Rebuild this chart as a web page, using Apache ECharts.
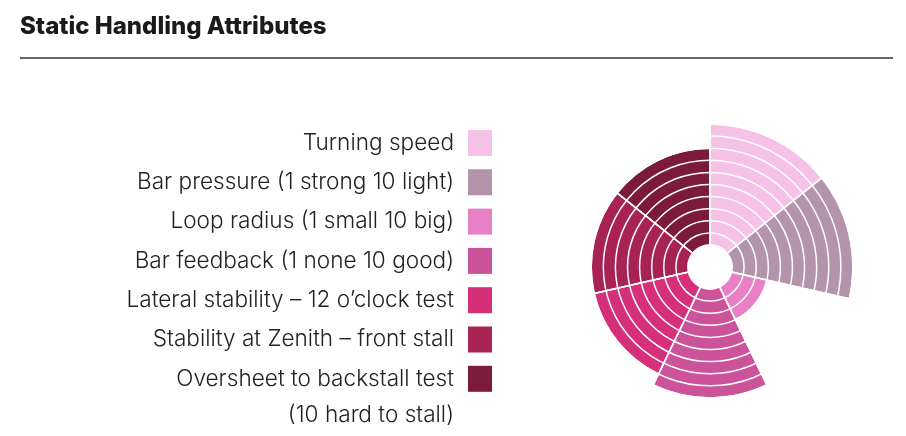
<!DOCTYPE html>
<html><head><meta charset="utf-8">
<script src="https://cdn.jsdelivr.net/npm/echarts@6/dist/echarts.min.js"></script>
<style>html,body{margin:0;padding:0;background:#fff}#c{width:906px;height:436px}</style>
</head><body><div id="c"></div>
<script>
const titleText = 'Static Handling Attributes';
const categories = [
  'Turning speed',
  'Bar pressure (1 strong 10 light)',
  'Loop radius (1 small 10 big)',
  'Bar feedback (1 none 10 good)',
  'Lateral stability \u2013 12 o\u2019clock test',
  'Stability at Zenith \u2013 front stall',
  'Oversheet to backstall test'
];
const values = [10, 10, 3, 9, 8, 8, 8];
const colors = ['#f5c1e6', '#b394aa', '#e97fc4', '#cc5299', '#d6307b', '#a92254', '#7b1a3a'];
const legendNote = '(10 hard to stall)';
const radiusMax = 10;

const FONT = 'Inter, "Noto Sans", sans-serif';
const chart = echarts.init(document.getElementById('c'), null, {renderer: 'canvas'});

const series = categories.map((name, i) => ({
  name: name,
  type: 'bar',
  coordinateSystem: 'polar',
  stack: 'all',
  barCategoryGap: '0%',
  data: values.map((v, j) => (j === i ? v : '-')),
  itemStyle: {color: colors[i], borderColor: '#fff', borderWidth: 1.5},
  emphasis: {disabled: true},
  silent: true,
  animation: false
}));

chart.setOption({
  animation: false,
  backgroundColor: '#fff',
  title: {
    text: titleText,
    left: 15, top: 10,
    textStyle: {fontFamily: FONT, fontSize: 24, fontWeight: 800, color: '#1a1a1a'}
  },
  polar: {center: [710, 267], radius: [22, 143]},
  angleAxis: {
    type: 'category',
    data: categories,
    startAngle: 90,
    clockwise: true,
    z: 10,
    axisLine: {show: false},
    axisTick: {show: false},
    axisLabel: {show: false},
    splitLine: {show: true, lineStyle: {color: '#fff', width: 1.5}}
  },
  radiusAxis: {
    type: 'value',
    min: 0, max: radiusMax, interval: 1,
    z: 10,
    axisLine: {show: false},
    axisTick: {show: false},
    axisLabel: {show: false},
    splitLine: {show: true, lineStyle: {color: '#fff', width: 1.5}}
  },
  legend: {
    data: categories,
    orient: 'vertical',
    align: 'right',
    right: 409,
    top: 125,
    itemWidth: 24,
    itemHeight: 26,
    itemGap: 13.3,
    icon: 'rect',
    selectedMode: false,
    itemStyle: {borderWidth: 0},
    textStyle: {fontFamily: FONT, fontSize: 22.6, fontWeight: 300, color: '#222', padding: [0, 9, 0, 0]}
  },
  graphic: [
    {type: 'line', shape: {x1: 20, y1: 58, x2: 893, y2: 58}, style: {stroke: '#333', lineWidth: 1.3}},
    {type: 'text', x: 454, y: 415, style: {text: legendNote, align: 'right', verticalAlign: 'middle', font: '300 22.6px ' + FONT, fill: '#222'}}
  ],
  series: series
});
</script></body></html>
